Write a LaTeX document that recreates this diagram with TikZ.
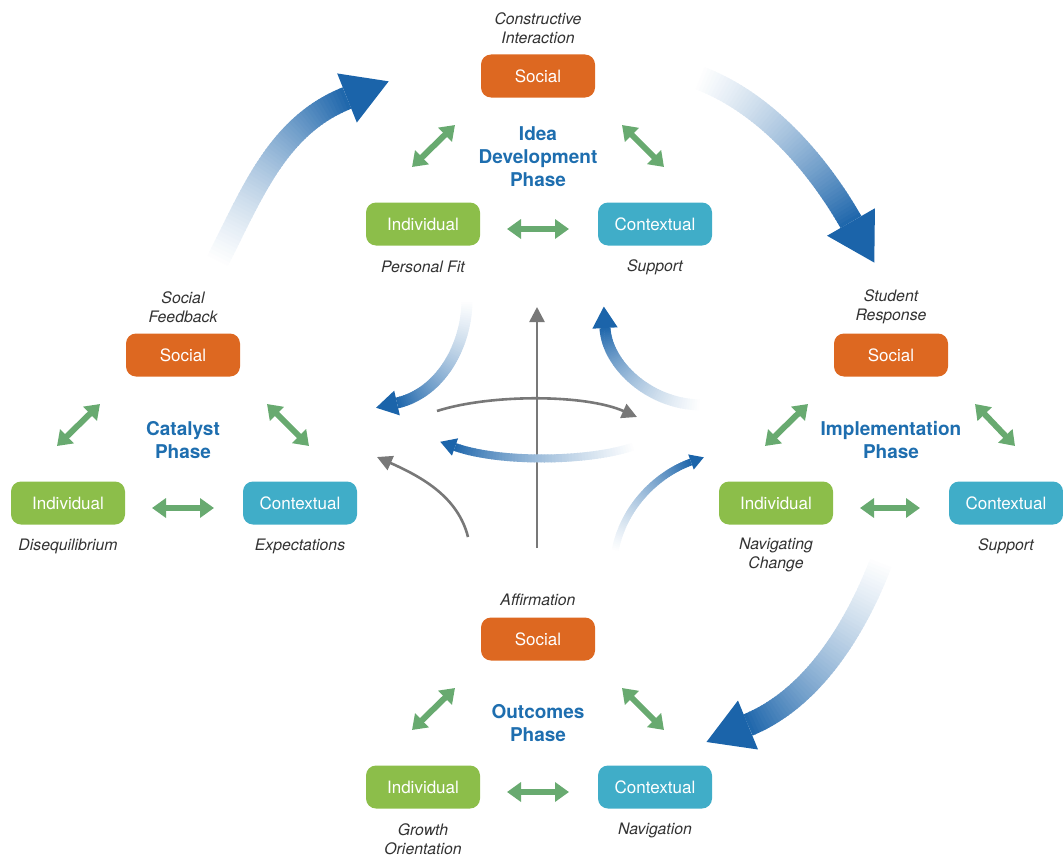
\documentclass[tikz,border=0pt]{standalone}
\usepackage{fontspec}
\setmainfont{TeX Gyre Heros}
\usetikzlibrary{arrows.meta,calc}

\definecolor{socialorange}{RGB}{221,104,33}
\definecolor{indivgreen}{RGB}{140,190,74}
\definecolor{contextteal}{RGB}{64,173,200}
\definecolor{phaseblue}{RGB}{30,110,175}
\definecolor{flowblue}{RGB}{27,100,170}
\definecolor{linkgreen}{RGB}{104,170,112}
\definecolor{axisgray}{RGB}{120,120,120}
\definecolor{labelgray}{RGB}{50,50,50}

\tikzset{
  phasebox/.style={rounded corners=10pt, minimum width=114pt, minimum height=43pt,
    inner sep=0pt, text=white, font=\fontsize{17}{20}\selectfont},
  socialbox/.style={phasebox, fill=socialorange},
  indivbox/.style={phasebox, fill=indivgreen},
  ctxbox/.style={phasebox, fill=contextteal},
  lab/.style={font=\fontsize{15.8}{19}\selectfont\itshape, text=labelgray,
    align=center, inner sep=0pt},
  phasetitle/.style={font=\fontsize{19}{23}\selectfont\bfseries, text=phaseblue,
    align=center, inner sep=0pt},
  link/.style={draw=linkgreen, line width=6pt,
    {Triangle[width=19pt,length=14pt]}-{Triangle[width=19pt,length=14pt]}},
  axisline/.style={draw=axisgray, line width=2.6pt,
    -{Triangle[width=15pt,length=15pt]}},
}

% Curved arrow whose shaft fades from white to blue along a cubic Bezier
% #1..#8: x0 y0 x1 y1 x2 y2 x3 y3, #9: shaft width
\newcommand\flowarrow[9]{%
  \foreach \k in {0,...,59}{%
    \pgfmathsetmacro\fa{\k/60}%
    \pgfmathsetmacro\fb{min(1,(\k+1.25)/60)}%
    \pgfmathsetmacro\fax{(1-\fa)^3*(#1)+3*(1-\fa)^2*\fa*(#3)+3*(1-\fa)*\fa^2*(#5)+\fa^3*(#7)}%
    \pgfmathsetmacro\fay{(1-\fa)^3*(#2)+3*(1-\fa)^2*\fa*(#4)+3*(1-\fa)*\fa^2*(#6)+\fa^3*(#8)}%
    \pgfmathsetmacro\fbx{(1-\fb)^3*(#1)+3*(1-\fb)^2*\fb*(#3)+3*(1-\fb)*\fb^2*(#5)+\fb^3*(#7)}%
    \pgfmathsetmacro\fby{(1-\fb)^3*(#2)+3*(1-\fb)^2*\fb*(#4)+3*(1-\fb)*\fb^2*(#6)+\fb^3*(#8)}%
    \pgfmathsetmacro\fpct{100*\fa*(0.6+0.4*\fa)}%
    \draw[line width=#9pt, draw=flowblue!\fpct!white] (\fax,\fay) -- (\fbx,\fby);%
  }%
  \pgfmathsetmacro\hdx{(#7)-(#5)}%
  \pgfmathsetmacro\hdy{(#8)-(#6)}%
  \pgfmathsetmacro\hlen{veclen(\hdx,\hdy)}%
  \pgfmathsetmacro\hux{\hdx/\hlen}%
  \pgfmathsetmacro\huy{\hdy/\hlen}%
  \fill[flowblue] ({(#7)+1.95*(#9)*(\hux)},{(#8)+1.95*(#9)*(\huy)})
    -- ({(#7)-1.15*(#9)*(\huy)},{(#8)+1.15*(#9)*(\hux)})
    -- ({(#7)+1.15*(#9)*(\huy)},{(#8)-1.15*(#9)*(\hux)}) -- cycle;%
}

\begin{document}
\begin{tikzpicture}[x=1pt,y=-1pt]
\useasboundingbox (0,0) rectangle (1063,859);

% ---- cycle arrows between the phases
\flowarrow{216}{264}{252}{194}{277}{126}{347}{98}{23}
\flowarrow{697}{77}{763}{101}{816}{161}{851}{222}{24}
\flowarrow{882}{560}{857}{626}{814}{698}{748}{725}{23}

% ---- central axes
\coordinate (vb) at (537,548);
\coordinate (vt) at (537,307);
\coordinate (ua) at (437,411);
\coordinate (ub) at (637,417);
\coordinate (la) at (468,537);
\coordinate (lb) at (377,457);
\draw[axisline] (vb) -- (vt);
\draw[axisline] (ua) .. controls (490,394) and (585,394) .. (ub);
\draw[axisline] (la) .. controls (458,497) and (422,477) .. (lb);

% ---- inner flow arrows
\flowarrow{467}{300}{467}{345}{441}{393}{397}{403}{11}
\flowarrow{702}{405}{650}{405}{607}{365}{605}{328}{11}
\flowarrow{635}{446}{590}{462}{500}{463}{455}{447}{8}
\flowarrow{615}{552}{622}{511}{653}{476}{691}{462}{7}

% ---- Idea Development phase
\node[socialbox] (ideaS) at (538,76) {Social};
\node[indivbox]  (ideaI) at (423,224) {Individual};
\node[ctxbox]    (ideaC) at (655,224) {Contextual};
\node[phasetitle] (ideaT) at ([shift={(0,81)}]ideaS.center) {Idea\\Development\\Phase};
\node[lab] (ideaSl) at ([shift={(0,-48)}]ideaS.center) {Constructive\\Interaction};
\node[lab] (ideaIl) at ([shift={(0,43)}]ideaI.center) {Personal Fit};
\node[lab] (ideaCl) at ([shift={(0,43)}]ideaC.center) {Support};
\draw[link] ([shift={(-11,-57)}]ideaI.center) -- ([shift={(-83,49)}]ideaS.center);
\draw[link] ([shift={(84,49)}]ideaS.center) -- ([shift={(9,-57)}]ideaC.center);
\draw[link] ([shift={(84,5)}]ideaI.center) -- ([shift={(-86,5)}]ideaC.center);

% ---- Catalyst phase
\node[socialbox] (catS) at (183,355) {Social};
\node[indivbox]  (catI) at (68,503) {Individual};
\node[ctxbox]    (catC) at (300,503) {Contextual};
\node[phasetitle] (catT) at ([shift={(0,85)}]catS.center) {Catalyst\\Phase};
\node[lab] (catSl) at ([shift={(0,-48)}]catS.center) {Social\\Feedback};
\node[lab] (catIl) at ([shift={(0,43)}]catI.center) {Disequilibrium};
\node[lab] (catCl) at ([shift={(0,43)}]catC.center) {Expectations};
\draw[link] ([shift={(-11,-57)}]catI.center) -- ([shift={(-83,49)}]catS.center);
\draw[link] ([shift={(84,49)}]catS.center) -- ([shift={(9,-57)}]catC.center);
\draw[link] ([shift={(84,5)}]catI.center) -- ([shift={(-86,5)}]catC.center);

% ---- Implementation phase
\node[socialbox] (impS) at (891,355) {Social};
\node[indivbox]  (impI) at (776,503) {Individual};
\node[ctxbox]    (impC) at (1006,503) {Contextual};
\node[phasetitle] (impT) at ([shift={(0,85)}]impS.center) {Implementation\\Phase};
\node[lab] (impSl) at ([shift={(0,-48)}]impS.center) {Student\\Response};
\node[lab] (impIl) at ([shift={(0,52)}]impI.center) {Navigating\\Change};
\node[lab] (impCl) at ([shift={(0,43)}]impC.center) {Support};
\draw[link] ([shift={(-11,-57)}]impI.center) -- ([shift={(-83,49)}]impS.center);
\draw[link] ([shift={(84,49)}]impS.center) -- ([shift={(9,-57)}]impC.center);
\draw[link] ([shift={(84,5)}]impI.center) -- ([shift={(-86,5)}]impC.center);

% ---- Outcomes phase
\node[socialbox] (outS) at (538,639) {Social};
\node[indivbox]  (outI) at (423,787) {Individual};
\node[ctxbox]    (outC) at (655,787) {Contextual};
\node[phasetitle] (outT) at ([shift={(0,84)}]outS.center) {Outcomes\\Phase};
\node[lab] (outSl) at ([shift={(0,-39)}]outS.center) {Affirmation};
\node[lab] (outIl) at ([shift={(0,52)}]outI.center) {Growth\\Orientation};
\node[lab] (outCl) at ([shift={(0,43)}]outC.center) {Navigation};
\draw[link] ([shift={(-11,-57)}]outI.center) -- ([shift={(-83,49)}]outS.center);
\draw[link] ([shift={(84,49)}]outS.center) -- ([shift={(9,-57)}]outC.center);
\draw[link] ([shift={(84,5)}]outI.center) -- ([shift={(-86,5)}]outC.center);
\end{tikzpicture}
\end{document}
